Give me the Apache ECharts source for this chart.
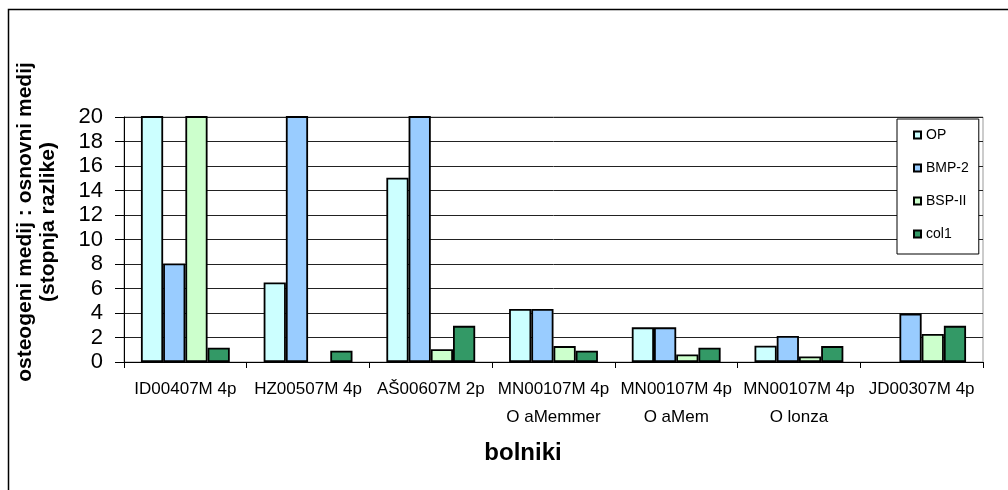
<!DOCTYPE html>
<html>
<head>
<meta charset="utf-8">
<script src="https://cdn.jsdelivr.net/npm/echarts@6/dist/echarts.min.js"></script>
<style>
html,body{margin:0;padding:0;background:#fff;}
#chart{width:1008px;height:490px;}
</style>
</head>
<body>
<div id="chart"></div>
<script>
// ---- data ----
var categories = ['ID00407M 4p', 'HZ00507M 4p', 'AŠ00607M 2p', 'MN00107M 4p\nO aMemmer', 'MN00107M 4p\nO aMem', 'MN00107M 4p\nO lonza', 'JD00307M 4p'];
var seriesNames = ['OP', 'BMP-2', 'BSP-II', 'col1'];
var opValues    = [22, 6.5, 15.05, 4.33, 2.83, 1.33, null];
var bmp2Values  = [8.05, 22, 22, 4.33, 2.83, 2.12, 3.95];
var bspValues   = [22, null, 1.05, 1.3, 0.62, 0.45, 2.28];
var col1Values  = [1.17, 0.92, 2.95, 0.92, 1.17, 1.3, 2.95];
var yTicks = [0, 2, 4, 6, 8, 10, 12, 14, 16, 18, 20];
var yTitle = 'osteogeni medij : osnovni medij\n(stopnja razlike)';
var xTitle = 'bolniki';

var colors = ['#CCFFFF', '#99CCFF', '#CCFFCC', '#339966'];
var FONT = "'Liberation Sans', Arial, sans-serif";
var allValues = [opValues, bmp2Values, bspValues, col1Values];

var chart = echarts.init(document.getElementById('chart'), null, {renderer: 'canvas'});

var series = seriesNames.map(function (name, i) {
  return {
    name: name,
    type: 'bar',
    data: allValues[i],
    barGap: '0%',
    barCategoryGap: '27.6%',
    clip: true,
    itemStyle: {color: colors[i], borderColor: '#000', borderWidth: 1.8},
    emphasis: {disabled: true}
  };
});

var option = {
  animation: false,
  backgroundColor: '#fff',
  textStyle: {fontFamily: FONT},
  grid: {left: 124, right: 25, top: 117, bottom: 128, show: true, borderColor: '#999', borderWidth: 1},
  legend: {
    orient: 'vertical',
    left: 897,
    top: 119,
    data: seriesNames,
    icon: 'rect',
    itemWidth: 7,
    itemHeight: 7,
    itemGap: 19,
    padding: [9, 10, 13, 16],
    backgroundColor: '#fff',
    borderColor: '#000',
    borderWidth: 1,
    textStyle: {fontFamily: FONT, fontSize: 14, color: '#000'}
  },
  xAxis: {
    type: 'category',
    data: categories,
    axisLine: {lineStyle: {color: '#000', width: 1}},
    axisTick: {show: true, alignWithLabel: false, length: 6, lineStyle: {color: '#000'}},
    axisLabel: {fontFamily: FONT, fontSize: 17, color: '#000', margin: 13, lineHeight: 28, interval: 0},
    splitLine: {show: false}
  },
  yAxis: {
    type: 'value',
    min: yTicks[0],
    max: yTicks[yTicks.length - 1],
    interval: 2,
    axisLine: {show: true, lineStyle: {color: '#000', width: 1}},
    axisTick: {show: true, length: 9, lineStyle: {color: '#000'}},
    axisLabel: {fontFamily: FONT, fontSize: 22, color: '#000', margin: 21},
    splitLine: {show: true, lineStyle: {color: '#222', width: 1}}
  },
  graphic: [
    {type: 'rect', silent: true, z: -1, shape: {x: 8.5, y: 9.5, width: 1030, height: 520}, style: {fill: null, stroke: '#000', lineWidth: 1.5}},
    {type: 'text', silent: true, x: 37, y: 222, rotation: Math.PI / 2,
      style: {text: yTitle, font: 'bold 21px ' + FONT, fill: '#000', align: 'center', verticalAlign: 'middle', lineHeight: 23}},
    {type: 'text', silent: true, x: 523, y: 453,
      style: {text: xTitle, font: 'bold 24px ' + FONT, fill: '#000', align: 'center', verticalAlign: 'middle'}}
  ],
  series: series
};
chart.setOption(option);
</script>
</body>
</html>
